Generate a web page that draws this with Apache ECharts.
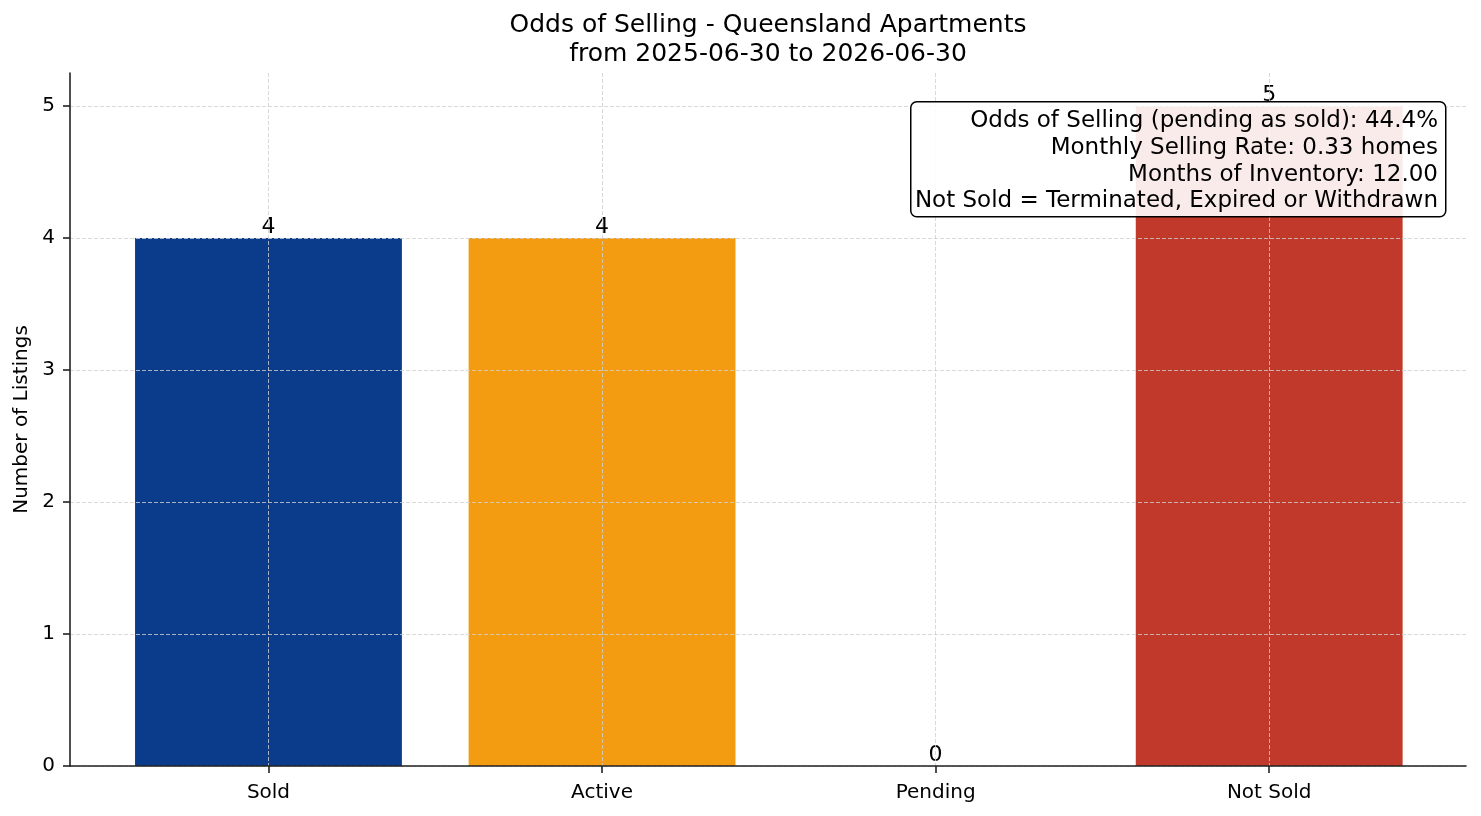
<!DOCTYPE html>
<html>
<head>
    <meta charset="utf-8">
    <script type="text/javascript" src="https://cdn.jsdelivr.net/npm/echarts@6/dist/echarts.min.js"></script>
    <style type="text/css">
        *{
            margin: 0;
            padding: 0;
        }
        #main{
            width: 1481px;
            height: 816px;
        }
    </style>
</head>
<body>
<div id="main"></div>
<script type="text/javascript">
    // data
    var categories = ['Sold', 'Active', 'Pending', 'Not Sold'];
    var counts = [4, 4, 0, 5];
    var barColors = ['#0b3c8c', '#f39c12', '#27ae60', '#c0392b'];
    var yTicks = [0, 1, 2, 3, 4, 5];
    var xTicks = [0, 1, 2, 3];
    var monthsInPeriod = 12;

    // summary box text
    var sold = counts[0], active = counts[1], pending = counts[2], notSold = counts[3];
    var odds = (sold + pending) / (sold + pending + notSold) * 100;
    var rate = sold / monthsInPeriod;
    var inventory = active / rate;
    var boxLines = [
        'Odds of Selling (pending as sold): ' + odds.toFixed(1) + '%',
        'Monthly Selling Rate: ' + rate.toFixed(2) + ' homes',
        'Months of Inventory: ' + inventory.toFixed(2),
        'Not Sold = Terminated, Expired or Withdrawn'
    ];

    var font = '"DejaVu Sans", sans-serif';
    var gridLine = {show: true, lineStyle: {color: '#cfcfcf', width: 0.8, type: [4, 2]}};
    var spine = {color: '#222', width: 1.6};

    var myChart = echarts.init(document.getElementById('main'));
    var option = {
        animation: false,
        textStyle: {fontFamily: font},
        title: {
            text: 'Odds of Selling - Queensland Apartments\nfrom 2025-06-30 to 2026-06-30',
            left: 768,
            textAlign: 'center',
            top: 11,
            padding: 0,
            textStyle: {fontFamily: font, fontSize: 25, fontWeight: 'normal', color: '#000', lineHeight: 29}
        },
        grid: {left: 70, right: 15, top: 73, bottom: 50, outerBoundsMode: 'none'},
        xAxis: {
            type: 'value',
            min: -0.595,
            max: 3.59,
            z: 5,
            axisLine: {show: true, onZero: false, lineStyle: spine},
            axisTick: {show: true, customValues: xTicks, length: 7, lineStyle: spine},
            axisLabel: {
                customValues: xTicks,
                margin: 17,
                fontSize: 20,
                color: '#000',
                fontFamily: font,
                formatter: function (v) { return categories[v]; }
            },
            splitLine: gridLine
        },
        yAxis: {
            type: 'value',
            min: 0,
            max: 5.25,
            z: 5,
            name: 'Number of Listings',
            nameLocation: 'middle',
            nameGap: 36,
            nameTextStyle: {fontSize: 20, color: '#000', fontFamily: font},
            axisLine: {show: true, onZero: false, lineStyle: spine},
            axisTick: {show: true, customValues: yTicks, length: 7, lineStyle: spine},
            axisLabel: {customValues: yTicks, margin: 15, fontSize: 20, color: '#000', fontFamily: font},
            splitLine: gridLine
        },
        series: [{
            type: 'bar',
            barWidth: '80%',
            data: counts.map(function (v, i) {
                return {value: [i, v], itemStyle: {color: barColors[i]}};
            }),
            label: {
                show: true,
                position: 'top',
                distance: 0,
                fontSize: 22,
                color: '#000',
                fontFamily: font,
                formatter: function (p) { return p.value[1]; }
            }
        }],
        graphic: [
            {
                type: 'rect',
                left: 910,
                top: 101,
                z: 100,
                shape: {width: 535, height: 115, r: 6},
                style: {fill: 'rgba(255,255,255,0.9)', stroke: '#000', lineWidth: 1.5}
            },
            {
                type: 'text',
                x: 1438,
                y: 108,
                z: 101,
                style: {
                    text: boxLines.join('\n'),
                    font: '23px ' + font,
                    textAlign: 'right',
                    align: 'right',
                    verticalAlign: 'top',
                    lineHeight: 26.7,
                    fill: '#000'
                }
            }
        ]
    };
    myChart.setOption(option);
</script>
</body>
</html>
